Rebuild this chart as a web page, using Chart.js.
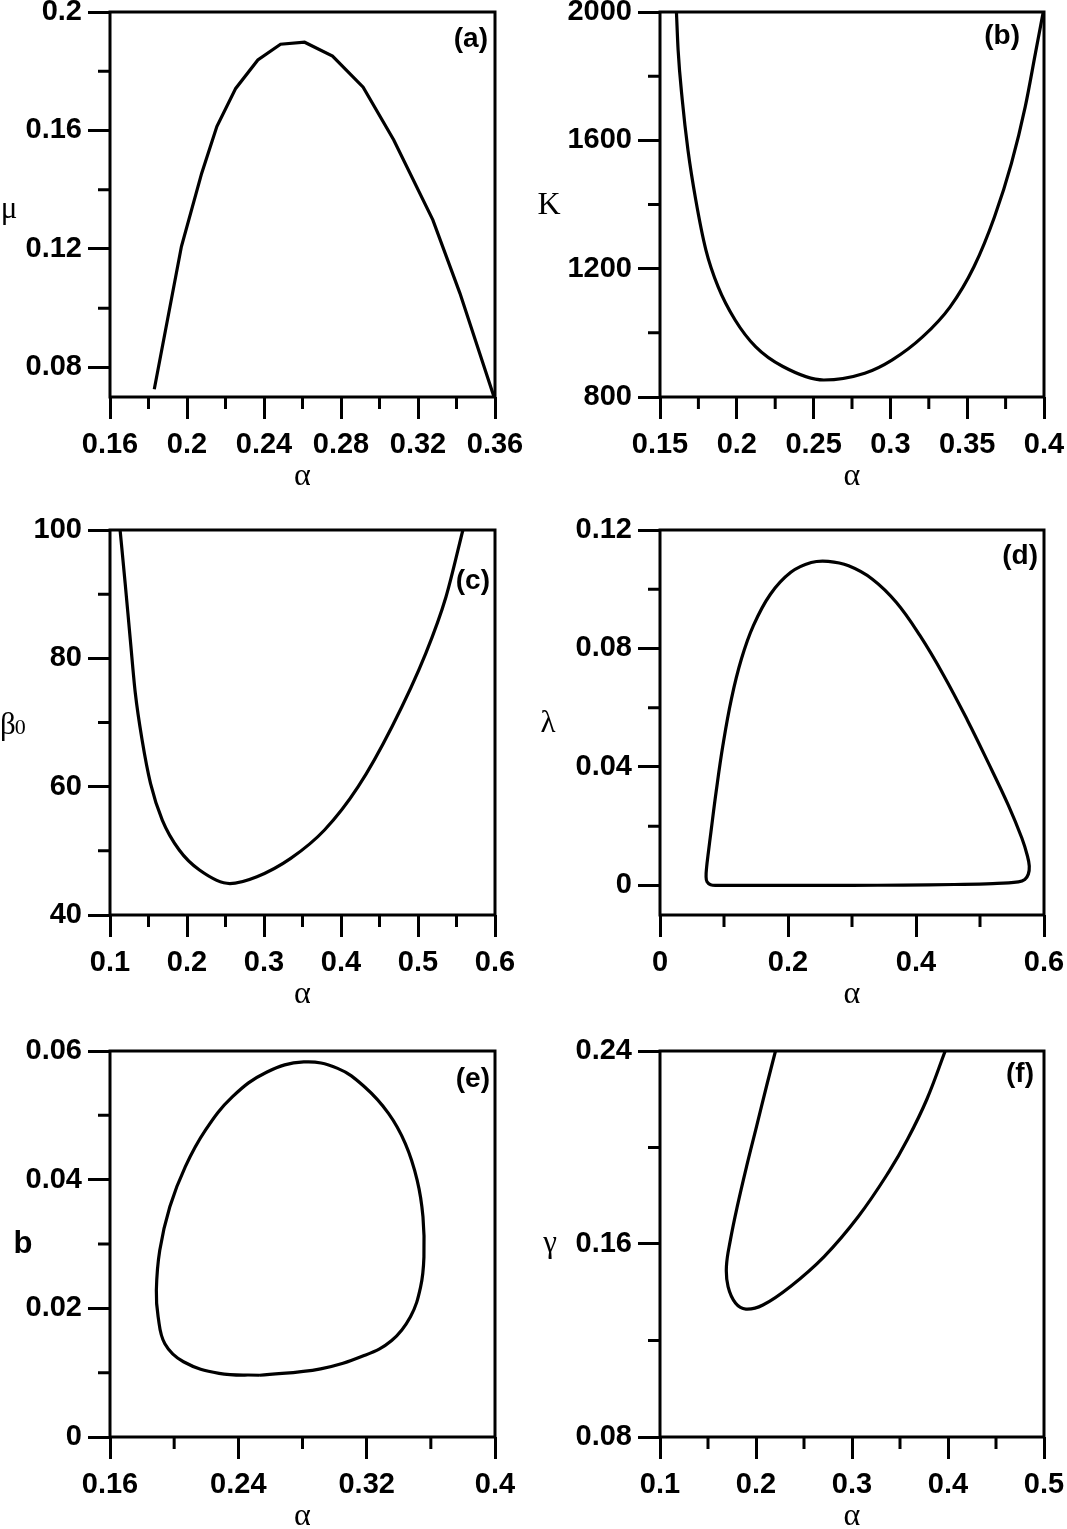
<!DOCTYPE html>
<html>
<head>
<meta charset="utf-8">
<title>Six panels vs alpha</title>
<script src="https://cdn.jsdelivr.net/npm/chart.js@4.4.1/dist/chart.umd.min.js"></script>
<style>
    html, body { margin: 0; padding: 0; background: #fff; overflow: hidden; }
    body { width: 1067px; height: 1529px; position: relative; }
    canvas { position: absolute; }
</style>
</head>
<body>
<canvas id="pa"></canvas>
<canvas id="pb"></canvas>
<canvas id="pc"></canvas>
<canvas id="pd"></canvas>
<canvas id="pe"></canvas>
<canvas id="pf"></canvas>
<script>
// (a) mu against alpha
const alphaA = [0.1830, 0.1971, 0.2076, 0.2155, 0.2253, 0.2368, 0.2486, 0.2611, 0.2756, 0.2915, 0.3074, 0.3277, 0.3418, 0.3595];
const muA = [0.0726, 0.1208, 0.1455, 0.1613, 0.1742, 0.1838, 0.1891, 0.1898, 0.1851, 0.1746, 0.1568, 0.1298, 0.1050, 0.0700];
const xTicksA = [0.16, 0.2, 0.24, 0.28, 0.32, 0.36];
const xMinorA = [0.18, 0.22, 0.26, 0.3, 0.34];
const yTicksA = [0.08, 0.12, 0.16, 0.2];
const yMinorA = [0.1, 0.14, 0.18];

// (b) K against alpha
const alphaB = [0.1607, 0.1618, 0.1645, 0.1682, 0.1733, 0.1799, 0.1878, 0.1989, 0.2122, 0.2300, 0.2566, 0.2833, 0.3010, 0.3211, 0.3389, 0.3544, 0.3678, 0.3788, 0.3878, 0.3944, 0.3995];
const kB = [2000, 1881, 1726, 1570, 1414, 1258, 1144, 1040, 957, 895, 853, 874, 915, 988, 1081, 1206, 1362, 1528, 1705, 1871, 2000];
const xTicksB = [0.15, 0.2, 0.25, 0.3, 0.35, 0.4];
const xMinorB = [0.175, 0.225, 0.275, 0.325, 0.375];
const yTicksB = [800, 1200, 1600, 2000];
const yMinorB = [1000, 1400, 1800];

// (c) beta0 against alpha
const alphaC = [0.1131, 0.1197, 0.1264, 0.1329, 0.1417, 0.1526, 0.1679, 0.1899, 0.2162, 0.2557, 0.2908, 0.3347, 0.3786, 0.4223, 0.4662, 0.5101, 0.5364, 0.5583];
const betaC = [100, 91.69, 82.86, 74.55, 67.27, 60.52, 54.8, 50.13, 47.01, 44.9, 45.97, 48.83, 53.25, 60.0, 69.35, 80.78, 89.6, 100];
const xTicksC = [0.1, 0.2, 0.3, 0.4, 0.5, 0.6];
const xMinorC = [0.15, 0.25, 0.35, 0.45, 0.55];
const yTicksC = [40, 60, 80, 100];
const yMinorC = [50, 70, 90];

// (d) lambda against alpha (closed loop, starts on the flat bottom)
const alphaD = [0.30, 0.20, 0.12, 0.09, 0.079, 0.0735, 0.0720, 0.0728, 0.0755, 0.0797, 0.0877, 0.0983, 0.1116, 0.1273, 0.1459, 0.1725, 0.2044, 0.2363, 0.2628, 0.2947, 0.3319, 0.3691, 0.4063, 0.4433, 0.4805, 0.5123, 0.5442, 0.5655, 0.5740, 0.5770, 0.5755, 0.5700, 0.5600, 0.52, 0.46, 0.38, 0.30];
const lambdaD = [0, 0, 0, 0, 0.0002, 0.0012, 0.0030, 0.0060, 0.0110, 0.0182, 0.0316, 0.0473, 0.0630, 0.0765, 0.0877, 0.0983, 0.1057, 0.1090, 0.1094, 0.1079, 0.1034, 0.0956, 0.0843, 0.0709, 0.0557, 0.0417, 0.0271, 0.0159, 0.0100, 0.0065, 0.0038, 0.0020, 0.0012, 0.0006, 0.0003, 0.0001, 0];
const xTicksD = [0, 0.2, 0.4, 0.6];
const xMinorD = [0.1, 0.3, 0.5];
const yTicksD = [0, 0.04, 0.08, 0.12];
const yMinorD = [0.02, 0.06, 0.1];

// (e) b against alpha (closed loop, starts at the bottom)
const alphaE = [0.2533, 0.2280, 0.2058, 0.1942, 0.1900, 0.1889, 0.1910, 0.1973, 0.2069, 0.2195, 0.2364, 0.2576, 0.2808, 0.3019, 0.3188, 0.3336, 0.3441, 0.3515, 0.3551, 0.3557, 0.3536, 0.3473, 0.3356, 0.3188, 0.2913, 0.2533];
const bE = [0.0096, 0.0099, 0.0117, 0.0145, 0.0187, 0.0228, 0.0290, 0.0358, 0.0420, 0.0477, 0.0529, 0.0567, 0.0583, 0.0573, 0.0544, 0.0503, 0.0456, 0.0399, 0.0342, 0.0280, 0.0233, 0.0187, 0.0150, 0.0127, 0.0106, 0.0096];
const xTicksE = [0.16, 0.24, 0.32, 0.4];
const xMinorE = [0.2, 0.28, 0.36];
const yTicksE = [0, 0.02, 0.04, 0.06];
const yMinorE = [0.01, 0.03, 0.05];

// (f) gamma against alpha
const alphaF = [0.2203, 0.2110, 0.2006, 0.1902, 0.1805, 0.1734, 0.1692, 0.1709, 0.1788, 0.1895, 0.2072, 0.2356, 0.2710, 0.3066, 0.3385, 0.3580, 0.3780, 0.3971];
const gammaF = [0.24, 0.2255, 0.2088, 0.1922, 0.1756, 0.1618, 0.1507, 0.1423, 0.1354, 0.1330, 0.1347, 0.1423, 0.1548, 0.1714, 0.1900, 0.2035, 0.2200, 0.24];
const xTicksF = [0.1, 0.2, 0.3, 0.4, 0.5];
const xMinorF = [0.15, 0.25, 0.35, 0.45];
const yTicksF = [0.08, 0.16, 0.24];
const yMinorF = [0.12, 0.2];

const tickFont = { family: '"Liberation Sans", Arial, sans-serif', size: 29, weight: 'bold' };
const serif = '"Liberation Serif", "Times New Roman", serif';

// Frame, minor ticks, axis titles and panel letter
const framePlugin = {
    id: 'frame',
    afterDraw(chart, args, o) {
        const ctx = chart.ctx;
        const a = chart.chartArea;
        const sx = chart.scales.x, sy = chart.scales.y;
        ctx.save();
        ctx.strokeStyle = '#000';
        ctx.fillStyle = '#000';
        ctx.lineWidth = 3;
        ctx.strokeRect(a.left, a.top, a.right - a.left, a.bottom - a.top);

        ctx.beginPath();
        o.xMinor.forEach(function(v) {
            const px = sx.getPixelForValue(v);
            ctx.moveTo(px, a.bottom);
            ctx.lineTo(px, a.bottom + 12);
        });
        o.yMinor.forEach(function(v) {
            const py = sy.getPixelForValue(v);
            ctx.moveTo(a.left, py);
            ctx.lineTo(a.left - 12, py);
        });
        ctx.stroke();

        // alpha under the x axis
        ctx.textAlign = 'center';
        ctx.textBaseline = 'middle';
        ctx.font = '32px ' + serif;
        ctx.fillText('α', (a.left + a.right) / 2, a.bottom + 80);

        // y title, horizontal
        ctx.font = o.yFont;
        if (o.ySub) {
            ctx.textAlign = 'left';
            ctx.textBaseline = 'alphabetic';
            ctx.fillText(o.yTitle, a.left + o.yDx, a.top + o.yDy);
            const w = ctx.measureText(o.yTitle).width;
            ctx.font = '22px ' + serif;
            ctx.fillText(o.ySub, a.left + o.yDx + w - 1, a.top + o.yDy);
        } else {
            ctx.fillText(o.yTitle, a.left + o.yDx, a.top + o.yDy);
        }

        // panel letter
        ctx.textAlign = 'right';
        ctx.textBaseline = 'middle';
        ctx.font = 'bold 28px "Liberation Sans", Arial, sans-serif';
        ctx.fillText(o.tag, a.right + o.tagDx, a.top + o.tagDy);
        ctx.restore();
    }
};

function fmt(v) {
    return String(+v.toFixed(4));
}

function makeChart(p) {
    const cv = document.getElementById(p.id);
    cv.width = p.w;
    cv.height = p.h;
    cv.style.left = p.left + 'px';
    cv.style.top = p.top + 'px';

    const grid = { display: true, drawOnChartArea: false, drawTicks: true, tickLength: 22, tickWidth: 3, tickColor: '#000' };

    return new Chart(cv, {
        type: 'scatter',
        data: {
            datasets: [{
                data: p.xs.map(function(x, i) { return { x: x, y: p.ys[i] }; }),
                showLine: true,
                borderColor: '#000',
                borderWidth: 3.2,
                pointRadius: 0,
                tension: p.tension,
                cubicInterpolationMode: p.mono ? 'monotone' : 'default',
                fill: false
            }]
        },
        options: {
            responsive: false,
            animation: false,
            events: [],
            layout: { padding: { top: p.padTop, right: p.padRight, left: 0, bottom: 0 } },
            plugins: {
                legend: { display: false },
                tooltip: { enabled: false },
                frame: p.frame
            },
            scales: {
                x: {
                    type: 'linear',
                    min: p.xMin,
                    max: p.xMax,
                    afterBuildTicks: function(s) { s.ticks = p.xTicks.map(function(v) { return { value: v }; }); },
                    afterFit: function(s) { s.height = p.xAxisH; },
                    grid: grid,
                    border: { display: false },
                    ticks: { color: '#000', font: tickFont, padding: 9, autoSkip: false, maxRotation: 0, callback: fmt }
                },
                y: {
                    type: 'linear',
                    min: p.yMin,
                    max: p.yMax,
                    afterBuildTicks: function(s) { s.ticks = p.yTicks.map(function(v) { return { value: v }; }); },
                    afterFit: function(s) { s.width = p.yAxisW; },
                    grid: grid,
                    border: { display: false },
                    ticks: { color: '#000', font: tickFont, padding: 6, autoSkip: false, callback: fmt }
                }
            }
        },
        plugins: [framePlugin]
    });
}

const leftCol = { left: 0, w: 535, padRight: 40, yAxisW: 110 };
const rightCol = { left: 530, w: 560, padRight: 46, yAxisW: 130 };
const row1 = { top: -20, h: 530, padTop: 32, xAxisH: 113 };
const row2 = { top: 490, h: 540, padTop: 40, xAxisH: 115 };
const row3 = { top: 1010, h: 519, padTop: 41, xAxisH: 92 };

const panels = [
    Object.assign({ id: 'pa', xs: alphaA, ys: muA, tension: 0, xMin: 0.16, xMax: 0.36, yMin: 0.07, yMax: 0.2,
        xTicks: xTicksA, yTicks: yTicksA,
        frame: { xMinor: xMinorA, yMinor: yMinorA, yTitle: 'μ', yFont: '31px ' + serif, yDx: -101, yDy: 198, tag: '(a)', tagDx: -7, tagDy: 27 } }, leftCol, row1),
    Object.assign({ id: 'pb', xs: alphaB, ys: kB, tension: 0.4, mono: true, xMin: 0.15, xMax: 0.4, yMin: 800, yMax: 2000,
        xTicks: xTicksB, yTicks: yTicksB,
        frame: { xMinor: xMinorB, yMinor: yMinorB, yTitle: 'K', yFont: '32px ' + serif, yDx: -111, yDy: 194, tag: '(b)', tagDx: -24, tagDy: 24 } }, rightCol, row1),
    Object.assign({ id: 'pc', xs: alphaC, ys: betaC, tension: 0.4, mono: true, xMin: 0.1, xMax: 0.6, yMin: 40, yMax: 100,
        xTicks: xTicksC, yTicks: yTicksC,
        frame: { xMinor: xMinorC, yMinor: yMinorC, yTitle: 'β', ySub: '0', yFont: '31px ' + serif, yDx: -110, yDy: 204, tag: '(c)', tagDx: -5, tagDy: 51 } }, leftCol, row2),
    Object.assign({ id: 'pd', xs: alphaD, ys: lambdaD, tension: 0.4, xMin: 0, xMax: 0.6, yMin: -0.01, yMax: 0.12,
        xTicks: xTicksD, yTicks: yTicksD,
        frame: { xMinor: xMinorD, yMinor: yMinorD, yTitle: 'λ', yFont: '31px ' + serif, yDx: -112, yDy: 194, tag: '(d)', tagDx: -6, tagDy: 26 } }, rightCol, row2),
    Object.assign({ id: 'pe', xs: alphaE, ys: bE, tension: 0.4, xMin: 0.16, xMax: 0.4, yMin: 0, yMax: 0.06,
        xTicks: xTicksE, yTicks: yTicksE,
        frame: { xMinor: xMinorE, yMinor: yMinorE, yTitle: 'b', yFont: 'bold 31px "Liberation Sans", Arial, sans-serif', yDx: -87, yDy: 193, tag: '(e)', tagDx: -5, tagDy: 28 } }, leftCol, row3),
    Object.assign({ id: 'pf', xs: alphaF, ys: gammaF, tension: 0.4, xMin: 0.1, xMax: 0.5, yMin: 0.08, yMax: 0.24,
        xTicks: xTicksF, yTicks: yTicksF,
        frame: { xMinor: xMinorF, yMinor: yMinorF, yTitle: 'γ', yFont: '31px ' + serif, yDx: -110, yDy: 193, tag: '(f)', tagDx: -10, tagDy: 23 } }, rightCol, row3)
];

panels.forEach(makeChart);
</script>
</body>
</html>
